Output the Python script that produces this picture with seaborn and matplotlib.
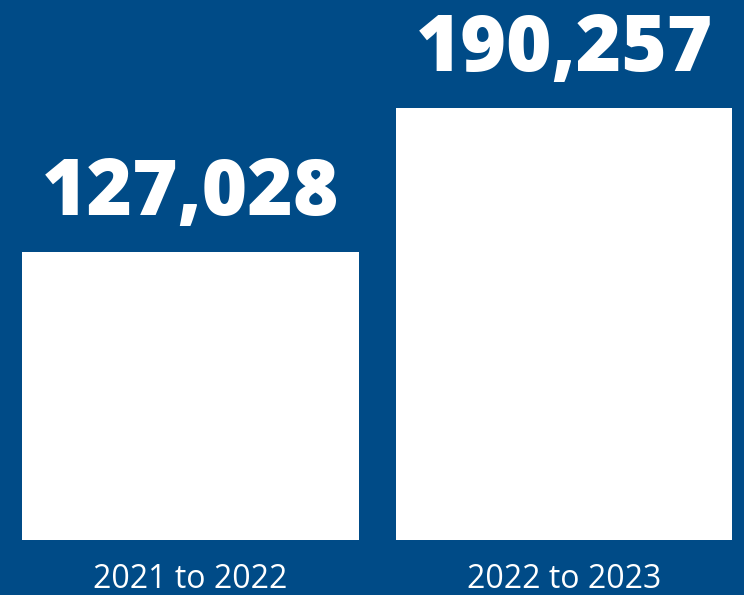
import matplotlib
matplotlib.use("Agg")
import matplotlib.pyplot as plt
import seaborn as sns
import pandas as pd

periods = ["2021 to 2022", "2022 to 2023"]
counts = [127028, 190257]
value_labels = ["127,028", "190,257"]

BG = "#004B87"

sns.set_theme(style="white")
plt.rcParams["font.family"] = ["Open Sans", "DejaVu Sans"]

df = pd.DataFrame({"period": periods, "count": counts})

fig = plt.figure(figsize=(7.44, 5.95), dpi=100, facecolor=BG)
ax = fig.add_axes([0, 55 / 595, 1, 540 / 595])
ax.set_facecolor(BG)

sns.barplot(data=df, x="period", y="count", order=periods, color="white",
            saturation=1, width=0.9, linewidth=0, ax=ax)

ax.set_xlim(-0.51, 1.482)
ax.set_ylim(0, 540 / 432 * max(counts))

for i, (v, lab) in enumerate(zip(counts, value_labels)):
    ax.annotate(lab, xy=(i, v), xytext=(0, 37 * 0.72), textcoords="offset points",
                ha="center", va="baseline", color="white", fontsize=56,
                fontweight="heavy")

ax.set_xlabel("")
ax.set_ylabel("")
ax.set_yticks([])
ax.tick_params(axis="x", length=0, pad=48 * 0.72, colors="white", labelsize=23)
for t in ax.get_xticklabels():
    t.set_va("baseline")
    t.set_color("white")
for s in ax.spines.values():
    s.set_visible(False)

fig.savefig("out.png", dpi=100, facecolor=BG)
